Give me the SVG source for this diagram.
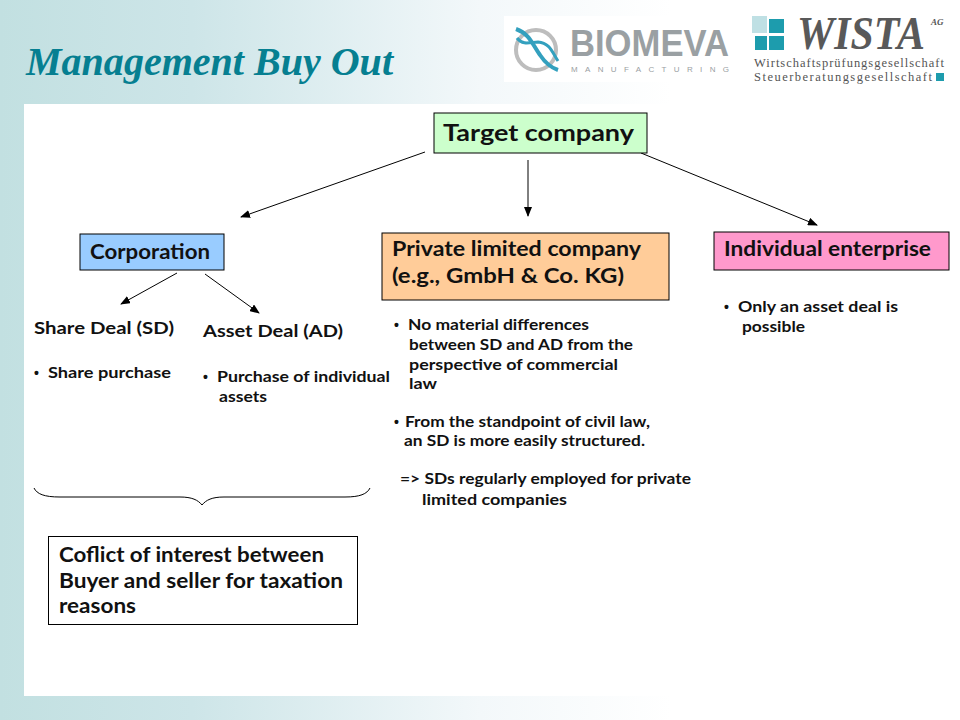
<svg xmlns="http://www.w3.org/2000/svg" width="960" height="720" viewBox="0 0 960 720">
<style>
.t{font-family:"Lato","Liberation Sans",sans-serif;font-weight:700;fill:#111}
.s{font-size:14.500px}.m{font-size:17px}.l{font-size:20px}
.d{font-family:"Liberation Sans",sans-serif;font-weight:700;font-size:14px;fill:#111}
.b{stroke:#000;stroke-width:1}
.c{stroke:#000;stroke-width:1;fill:none;marker-end:url(#a)}
</style>
<defs>
<linearGradient id="g" x1="0" x2="1" y1="0" y2="0"><stop offset="0" stop-color="#c2e0e1"/><stop offset=".2" stop-color="#cde5e8"/><stop offset=".5" stop-color="#f3f8fa"/><stop offset=".7" stop-color="#fff"/></linearGradient>
<marker id="a" markerWidth="10" markerHeight="8" refX="9" refY="4" orient="auto" markerUnits="userSpaceOnUse"><path d="M0 0L10 4L0 8Z" fill="#000"/></marker>
</defs>
<rect width="960" height="720" fill="url(#g)"/>
<rect x="24" y="104" width="936" height="592" fill="#fff"/>
<text x="26" y="75" font-family="'Liberation Serif',serif" font-weight="700" font-style="italic" font-size="40" fill="#067f91" textLength="367" lengthAdjust="spacingAndGlyphs">Management Buy Out</text>
<g id="logo-biomeva">
<rect x="504" y="16" width="228" height="66" fill="#fff"/>
<circle cx="536" cy="50" r="20" fill="none" stroke="#bdbdbd" stroke-width="4"/>
<path d="M516 29C530 34 532 44 540 55C546 64 552 68 558 70" fill="none" stroke="#33a0be" stroke-width="4"/>
<path d="M517 38C523 46 531 42 538 42C550 43 552 52 558 61" fill="none" stroke="#33a0be" stroke-width="3"/>
<text x="570" y="56" font-family="'Liberation Sans',sans-serif" font-weight="700" font-size="37" fill="#9aa0a3" textLength="159" lengthAdjust="spacingAndGlyphs">BIOMEVA</text>
<text x="571" y="72" font-family="'Liberation Sans',sans-serif" font-size="8" fill="#9aa0a3" textLength="158" lengthAdjust="spacing">MANUFACTURING</text>
</g>
<g id="logo-wista">
<rect x="752" y="16" width="15" height="17" fill="#bfe0e4"/><rect x="769" y="19" width="15" height="14" fill="#1d9cad"/>
<rect x="755" y="36" width="12" height="14" fill="#1d9cad"/><rect x="769" y="36" width="15" height="14" fill="#1d9cad"/>
<text x="797" y="49" font-family="'Liberation Serif',serif" font-style="italic" font-weight="700" font-size="46" fill="#595959" textLength="128" lengthAdjust="spacingAndGlyphs">WISTA</text>
<text x="931" y="25" font-family="'Liberation Serif',serif" font-style="italic" font-weight="700" font-size="9" fill="#555">AG</text>
<text x="754" y="67" font-family="'Liberation Serif',serif" font-size="12.500" fill="#555" textLength="190" lengthAdjust="spacing">Wirtschaftsprüfungsgesellschaft</text>
<text x="754" y="81" font-family="'Liberation Serif',serif" font-size="12.500" fill="#555" textLength="178" lengthAdjust="spacing">Steuerberatungsgesellschaft</text>
<rect x="936" y="73" width="8" height="8" fill="#1d9cad"/>
</g>
<g id="connectors">
<line class="c" x1="425" y1="152" x2="241" y2="217"/>
<line class="c" x1="528" y1="160" x2="528" y2="216"/>
<line class="c" x1="641" y1="153" x2="817" y2="225"/>
<line class="c" x1="177" y1="273" x2="121" y2="304"/>
<line class="c" x1="205" y1="274" x2="259" y2="313"/>
<path d="M34 488C37 494 44 497 60 497L180 497C192 497 198 500 202 505C206 500 212 497 224 497L345 497C360 497 367 494 370 488" fill="none" stroke="#000"/>
</g>
<g id="target"><rect class="b" x="434" y="113" width="213" height="40" fill="#ccffcc"/>
<text class="t" x="443" y="141" font-size="23" textLength="191" lengthAdjust="spacingAndGlyphs">Target company</text></g>
<g id="corporation"><rect class="b" x="80" y="234" width="144" height="36" fill="#99ccff"/>
<text class="t l" x="90" y="259" textLength="120" lengthAdjust="spacingAndGlyphs">Corporation</text></g>
<g id="private"><rect class="b" x="382" y="233" width="287" height="67" fill="#ffcc99"/>
<text class="t l" x="392" y="256" textLength="249" lengthAdjust="spacingAndGlyphs">Private limited company</text>
<text class="t l" x="392" y="283" textLength="232" lengthAdjust="spacingAndGlyphs">(e.g., GmbH &amp; Co. KG)</text></g>
<g id="individual"><rect class="b" x="714" y="232" width="235" height="38" fill="#ff99cc"/>
<text class="t l" x="724" y="256" textLength="207" lengthAdjust="spacingAndGlyphs">Individual enterprise</text></g>
<g id="share">
<text class="t m" x="34" y="334" textLength="140" lengthAdjust="spacingAndGlyphs">Share Deal (SD)</text>
<text class="d" x="34" y="378">•</text>
<text class="t s" x="48" y="378" textLength="123" lengthAdjust="spacingAndGlyphs">Share purchase</text></g>
<g id="asset">
<text class="t m" x="203" y="337" textLength="140" lengthAdjust="spacingAndGlyphs">Asset Deal (AD)</text>
<text class="d" x="203" y="382">•</text>
<text class="t s" x="217" y="382" textLength="173" lengthAdjust="spacingAndGlyphs">Purchase of individual</text>
<text class="t s" x="219" y="402" textLength="48" lengthAdjust="spacingAndGlyphs">assets</text></g>
<g id="private-notes">
<text class="d" x="394" y="330">•</text>
<text class="t s" x="408" y="330" textLength="181" lengthAdjust="spacingAndGlyphs">No material differences</text>
<text class="t s" x="409" y="350" textLength="224" lengthAdjust="spacingAndGlyphs">between SD and AD from the</text>
<text class="t s" x="409" y="370" textLength="209" lengthAdjust="spacingAndGlyphs">perspective of commercial</text>
<text class="t s" x="409" y="389" textLength="28" lengthAdjust="spacingAndGlyphs">law</text>
<text class="d" x="394" y="427">•</text>
<text class="t s" x="405" y="427" textLength="245" lengthAdjust="spacingAndGlyphs">From the standpoint of civil law,</text>
<text class="t s" x="404" y="446" textLength="241" lengthAdjust="spacingAndGlyphs">an SD is more easily structured.</text>
<text class="t s" x="400" y="484" textLength="291" lengthAdjust="spacingAndGlyphs">=&gt; SDs regularly employed for private</text>
<text class="t s" x="422" y="505" textLength="145" lengthAdjust="spacingAndGlyphs">limited companies</text></g>
<g id="individual-notes">
<text class="d" x="724" y="312">•</text>
<text class="t s" x="738" y="312" textLength="160" lengthAdjust="spacingAndGlyphs">Only an asset deal is</text>
<text class="t s" x="742" y="332" textLength="63" lengthAdjust="spacingAndGlyphs">possible</text></g>
<g id="conflict"><rect class="b" x="48.500" y="536.500" width="309" height="88" fill="#fff"/>
<text class="t l" x="59" y="562" textLength="265" lengthAdjust="spacingAndGlyphs">Coflict of interest between</text>
<text class="t l" x="59" y="588" textLength="284" lengthAdjust="spacingAndGlyphs">Buyer and seller for taxation</text>
<text class="t l" x="59" y="613" textLength="77" lengthAdjust="spacingAndGlyphs">reasons</text></g>
</svg>
